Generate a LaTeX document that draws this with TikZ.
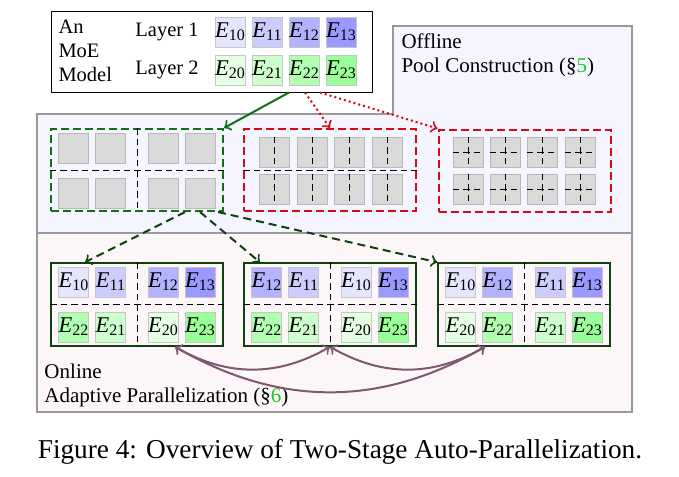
\documentclass[tikz,border=0pt]{standalone}
\usepackage{fontspec}
\setmainfont{Liberation Serif}
\usepackage{tikz}
\usepackage{xcolor}
\usetikzlibrary{positioning, arrows}

\definecolor{offlinebg}{RGB}{245,245,255}
\definecolor{onlinebg}{RGB}{252,246,249}
\definecolor{secgreen}{RGB}{30,200,30}
\definecolor{swapcol}{RGB}{125,88,110}
\definecolor{poolgreen}{RGB}{20,110,20}
\definecolor{plangreen}{RGB}{15,65,15}
\definecolor{poolred}{RGB}{215,10,20}

\newcommand{\expt}[1]{\textit{E}{\fontsize{6.4}{7}\selectfont\raisebox{-0.2em}{#1}}}

\tikzset{
  expert/.style={draw=gray!45, fill=#1, minimum size=12pt, inner sep=0pt, font=\fontsize{9}{10}\selectfont},
  slot/.style={draw=gray!55, fill=gray!30, minimum size=12pt, inner sep=0pt},
  panel/.style={draw=gray!80, semithick},
  pool/.style={draw=#1, thick, dash pattern=on 3.2pt off 1.6pt, minimum width=68.8pt, minimum height=32.8pt},
  plan/.style={draw=plangreen, semithick, minimum width=68.8pt, minimum height=33.2pt},
  divider/.style={black, dash pattern=on 2.6pt off 1.6pt},
  exchange/.style={<->, thick, swapcol},
}

\begin{document}
\begin{tikzpicture}[x=0.4pt, y=-0.4pt, font=\fontsize{8.2}{9.6}\selectfont]
\useasboundingbox (0,0) rectangle (679,476);

% stages
\draw[panel, fill=offlinebg] (37,114) -- (393,114) -- (393,26) -- (632,26) -- (632,233) -- (37,233) -- cycle;
\draw[panel, fill=onlinebg] (37,233) rectangle (632,412);
\node[anchor=north west, inner sep=0pt, align=left, font=\fontsize{8.4}{9.6}\selectfont] (offtxt) at (401,33) {Offline\\Pool Construction (\S\textcolor{secgreen}{5})};
\node[anchor=north west, inner sep=0pt, align=left, font=\fontsize{8.4}{9.6}\selectfont] (ontxt) at (44,363) {Online\\Adaptive Parallelization (\S\textcolor{secgreen}{6})};

% the model
\node[draw, fill=white, minimum width=128.4pt, minimum height=32.4pt] (moe) at (212,51.5) {};
\node[anchor=west, inner sep=0pt, align=left] (moetxt) at (58,51) {An\\MoE\\Model};
\node (l1) at (167,32) {Layer 1};
\node (l2) at (167,70) {Layer 2};
\foreach \k/\s in {0/10,1/20,2/30,3/40} {
  \node[expert=blue!\s] (m1\k) at ({230+37*\k},32) {\expt{1\k}};
  \node[expert=green!\s] (m2\k) at ({230+37*\k},70) {\expt{2\k}};
}

% pools
\foreach \x [count=\i] in {73.5,110.5,163,200.5} {
  \node[slot] (ga\i) at (\x,148) {};
  \node[slot] (gb\i) at (\x,193) {};
}
\foreach \x [count=\i] in {274,312,349.5,387} {
  \node[slot] (ra\i) at (\x,152) {};
  \node[slot] (rb\i) at (\x,189) {};
  \draw[divider] (ra\i.north) -- (ra\i.south) (rb\i.north) -- (rb\i.south);
}
\foreach \x [count=\i] in {468,505,542,580} {
  \node[slot] (sa\i) at (\x,152) {};
  \node[slot] (sb\i) at (\x,189) {};
  \draw[divider] (sa\i.north) -- (sa\i.south) (sa\i.west) -- (sa\i.east);
  \draw[divider] (sb\i.north) -- (sb\i.south) (sb\i.west) -- (sb\i.east);
}
\node[pool=poolgreen] (gpool) at (137,170) {};
\node[pool=poolred] (rpool1) at (330,170) {};
\node[pool=poolred] (rpool2) at (524.5,170.5) {};
\draw[divider] (gpool.west) -- (gpool.east) (gpool.north) -- (gpool.south);
\draw[divider] (rpool1.west) -- (rpool1.east);

% plans
\node[plan] (plan1) at (137,304.5) {};
\node[plan] (plan2) at (330,304.5) {};
\node[plan] (plan3) at (524,304.5) {};
\foreach \p/\xo/\rowa/\rowb in {1/0/{0,1,2,3}/{2,1,0,3}, 2/193/{2,1,0,3}/{2,1,0,3}, 3/387/{0,2,1,3}/{0,2,1,3}} {
  \foreach \k [count=\i from 0] in \rowa {
    \pgfmathtruncatemacro\s{10*(\k+1)}
    \node[expert=blue!\s] (p\p-a\i) at ({\xo+73.5+37*\i+15.5*(\i>1)},282) {\expt{1\k}};
  }
  \foreach \k [count=\i from 0] in \rowb {
    \pgfmathtruncatemacro\s{10*(\k+1)}
    \node[expert=green!\s] (p\p-b\i) at ({\xo+73.5+37*\i+15.5*(\i>1)},327) {\expt{2\k}};
  }
  \draw[divider] (plan\p.west) -- (plan\p.east) (plan\p.north) -- (plan\p.south);
}

\draw[->, thick, poolgreen] ([xshift=30.8pt]moe.south) -- (gpool.north east);
\draw[->, thick, poolred, dash pattern=on 0.8pt off 1.2pt] ([xshift=37.2pt]moe.south) -- (rpool1.north);
\draw[->, thick, poolred, dash pattern=on 0.8pt off 1.2pt] ([xshift=43.2pt]moe.south) -- (rpool2.north west);

\draw[->, thick, plangreen, dash pattern=on 3.2pt off 2pt] ([xshift=19.2pt]gpool.south) -- ([xshift=-20.8pt]plan1.north);
\draw[->, thick, plangreen, dash pattern=on 3.2pt off 2pt] ([xshift=25.2pt]gpool.south) -- ([xshift=-28pt]plan2.north);
\draw[->, thick, plangreen, dash pattern=on 3.2pt off 2pt] ([xshift=-2.4pt]gpool.south east) -- (plan3.north west);

\coordinate (s1) at ([xshift=15.2pt]plan1.south);
\coordinate (s2) at (plan2.south);
\coordinate (s3) at ([xshift=-15.6pt]plan3.south);
\draw[exchange] (s1) to[bend right=30] (s2);
\draw[exchange] (s2) to[bend right=30] (s3);
\draw[exchange] (s1) to[bend right=30] (s3);

\node[font=\fontsize{10.9}{13}\selectfont] (cap) at (340,452) {Figure 4: Overview of Two-Stage Auto-Parallelization.};
\end{tikzpicture}
\end{document}
